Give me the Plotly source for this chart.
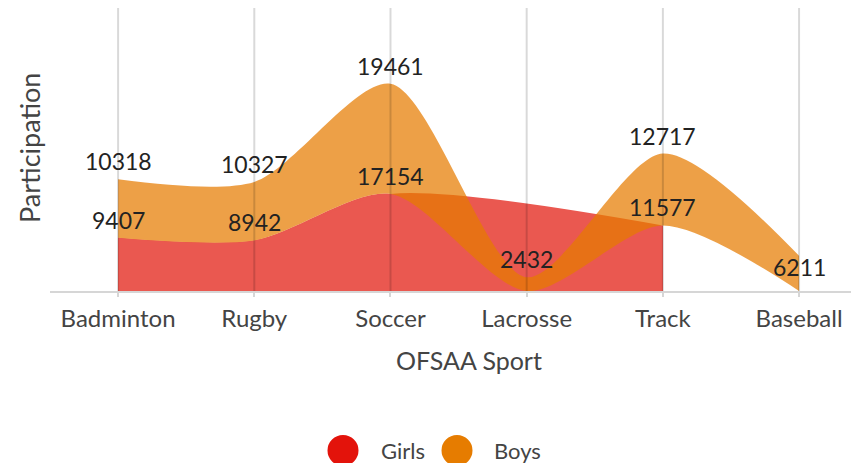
import plotly.graph_objects as go

sports = ["Badminton", "Rugby", "Soccer", "Lacrosse", "Track", "Baseball"]
girls = [9407, 8942, 17154, None, 11577, None]
boys = [10318, 10327, 19461, 2432, 12717, 6211]

RED = "#e3130b"
ORANGE = "#e67c00"
RED_FILL = "rgb(234,88,80)"
ORANGE_FILL = "rgba(230,124,0,0.72)"
FONT = "Lato"
SMOOTH = 0.8

# the page body has an 8px margin, so the figure starts at (8, 8) of the window
OFF = 8
W, H = 859 - OFF, 463 - OFF
L, R, T, B = 42, 0, 0, 172
PW, PH = W - L - R, H - T - B

# stacked values
girls_base = [g if g is not None else 0 for g in girls]
boys_top = [gb + b for gb, b in zip(girls_base, boys)]
last_girl = max(i for i, g in enumerate(girls) if g is not None)

fig = go.Figure()

# red area: the stack base (girls, nulls as zero) up to the last girls value ...
fig.add_trace(go.Scatter(
    x=sports[:last_girl + 1], y=girls_base[:last_girl + 1], mode="lines",
    line=dict(shape="spline", smoothing=SMOOTH, width=0, color=RED),
    fill="tozeroy", fillcolor=RED_FILL, showlegend=False, hoverinfo="skip"))
# ... and the girls line with gaps connected
fig.add_trace(go.Scatter(
    x=sports, y=girls, mode="lines", connectgaps=True,
    line=dict(shape="spline", smoothing=SMOOTH, width=0, color=RED),
    fill="tozeroy", fillcolor=RED_FILL, name="Girls",
    showlegend=False, hoverinfo="skip"))

# orange band stacked on top of girls
fig.add_trace(go.Scatter(
    x=sports, y=girls_base, mode="lines",
    line=dict(shape="spline", smoothing=SMOOTH, width=0, color=ORANGE),
    showlegend=False, hoverinfo="skip"))
fig.add_trace(go.Scatter(
    x=sports, y=boys_top, mode="lines",
    line=dict(shape="spline", smoothing=SMOOTH, width=0, color=ORANGE),
    fill="tonexty", fillcolor=ORANGE_FILL, name="Boys",
    showlegend=False, hoverinfo="skip"))

annotations = []
label_font = dict(family=FONT, size=23, color="#222222")
for s, g in zip(sports, girls):
    if g is not None:
        annotations.append(dict(x=s, y=g, xref="x", yref="y", text=str(g),
                                showarrow=False, xanchor="center", yanchor="middle",
                                yshift=18, font=label_font))
for s, b, t in zip(sports, boys, boys_top):
    ys = -11 if s == "Baseball" else 18
    annotations.append(dict(x=s, y=t, xref="x", yref="y", text=str(b),
                            showarrow=False, xanchor="center", yanchor="middle",
                            yshift=ys, font=label_font))

def px(xw):
    return (xw - OFF - L) / PW

def py(yw):
    return (H - B - (yw - OFF)) / PH

# axis titles
annotations.append(dict(x=px(469), y=py(360), xref="paper", yref="paper",
                        text="OFSAA Sport", showarrow=False, xanchor="center",
                        yanchor="middle", font=dict(family=FONT, size=25, color="#444444")))
annotations.append(dict(x=px(29), y=py(148), xref="paper", yref="paper",
                        text="Participation", textangle=-90, showarrow=False,
                        xanchor="center", yanchor="middle",
                        font=dict(family=FONT, size=27, color="#444444")))
# legend
annotations.append(dict(x=px(379), y=py(450), xref="paper", yref="paper", text="Girls",
                        showarrow=False, xanchor="left", yanchor="middle",
                        font=dict(family=FONT, size=22, color="#444444")))
annotations.append(dict(x=px(492), y=py(450), xref="paper", yref="paper", text="Boys",
                        showarrow=False, xanchor="left", yanchor="middle",
                        font=dict(family=FONT, size=22, color="#444444")))

shapes = []
for cx, col in [(343, RED), (457, ORANGE)]:
    shapes.append(dict(type="circle", xref="paper", yref="paper",
                       xsizemode="pixel", ysizemode="pixel",
                       xanchor=px(cx), yanchor=py(450.5),
                       x0=-15.5, x1=15.5, y0=-15.5, y1=15.5,
                       fillcolor=col, line=dict(width=0)))
# vertical grid lines drawn over the translucent areas
for s in sports:
    shapes.append(dict(type="line", xref="x", yref="paper", x0=s, x1=s, y0=0, y1=1,
                       line=dict(color="rgba(0,0,0,0.15)", width=2), layer="above"))

fig.update_layout(
    width=W, height=H,
    margin=dict(l=L, r=R, t=T, b=B),
    paper_bgcolor="white", plot_bgcolor="white",
    showlegend=False,
    annotations=annotations, shapes=shapes,
    xaxis=dict(type="category", categoryorder="array", categoryarray=sports,
               range=[-0.5, 5.44], showgrid=False,
               showline=True, linecolor="#d6d6d6", linewidth=2,
               ticks="outside", ticklen=4, tickcolor="#d6d6d6", tickwidth=2,
               ticklabelstandoff=1,
               tickfont=dict(family=FONT, size=24, color="#444444"),
               zeroline=False, fixedrange=True),
    yaxis=dict(range=[0, 50000], showgrid=False, showticklabels=False,
               zeroline=False, showline=False, ticks="", fixedrange=True),
)

fig.write_html("out.html")
